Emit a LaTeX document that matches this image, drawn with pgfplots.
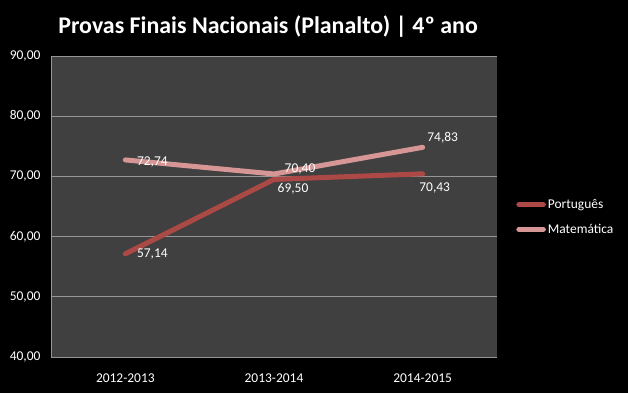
\documentclass[border=0pt]{standalone}
\usepackage{pgfplots}
\pgfplotsset{compat=1.18}
\usepackage{fontspec}
\setmainfont{Carlito}
\definecolor{port}{RGB}{172,72,70}
\definecolor{mate}{RGB}{214,150,150}
\definecolor{plotbg}{RGB}{64,64,64}
\definecolor{gridc}{RGB}{150,150,150}
\pgfplotsset{
  lab/.style 2 args={only marks, mark=none, forget plot, point meta=y,
    nodes near coords={\pgfmathprintnumber[use comma,fixed,fixed zerofill,precision=2,assume math mode=true]{\pgfplotspointmeta}},
    nodes near coords style={text=white, font=\fontsize{13.5}{15}\selectfont, anchor=center, inner sep=0pt, xshift=#1, yshift=#2}},
}
\begin{document}
\begin{tikzpicture}[x=1bp,y=1bp]
\path[use as bounding box, fill=black] (0,0) rectangle (628,393);
\node[text=white, font=\fontsize{24}{28}\selectfont\bfseries] at (268,366) {Provas Finais Nacionais (Planalto) | 4º ano};
\begin{axis}[
  at={(51bp,36bp)}, anchor=south west,
  scale only axis, width=446bp, height=301bp,
  xmin=-0.5, xmax=2.5, ymin=40, ymax=90,
  xtick={0,1,2}, xticklabels={2012-2013,2013-2014,2014-2015},
  ytick={40,50,60,70,80,90},
  scaled y ticks=false,
  axis background/.style={fill=plotbg},
  axis lines*=left,
  axis line style={gridc, line width=0.8pt},
  ymajorgrids, grid style={gridc, line width=0.8pt},
  major tick length=0pt,
  tick label style={text=white, font=\fontsize{13.5}{15}\selectfont},
  yticklabel style={xshift=-7bp, /pgf/number format/use comma, /pgf/number format/fixed, /pgf/number format/fixed zerofill, /pgf/number format/precision=2, /pgf/number format/assume math mode=true},
  xticklabel style={yshift=-13bp},
  legend style={at={(1.043,0.465)}, anchor=west, draw=none, fill=none, text=white,
    font=\fontsize{13.5}{15}\selectfont, row sep=10bp, inner sep=0pt},
  legend cell align=left,
  legend image code/.code={\draw[#1, line width=5bp, line cap=round] (2.5bp,0bp) -- (27bp,0bp);},
  clip=false,
]
\addplot[port, line width=5bp, line cap=round, line join=round, mark=none] coordinates {(0,57.14) (1,69.50) (2,70.43)};
\addlegendentry{Português}
\addplot[mate, line width=5bp, line cap=round, line join=round, mark=none] coordinates {(0,72.74) (1,70.40) (2,74.83)};
\addlegendentry{Matemática}
\addplot[lab={27bp}{0bp}] coordinates {(0,57.14)};
\addplot[lab={19bp}{-9bp}] coordinates {(1,69.50)};
\addplot[lab={12bp}{-14.4bp}] coordinates {(2,70.43)};
\addplot[lab={27bp}{-2.4bp}] coordinates {(0,72.74)};
\addplot[lab={26bp}{4.6bp}] coordinates {(1,70.40)};
\addplot[lab={20bp}{10bp}] coordinates {(2,74.83)};
\end{axis}
\end{tikzpicture}
\end{document}
